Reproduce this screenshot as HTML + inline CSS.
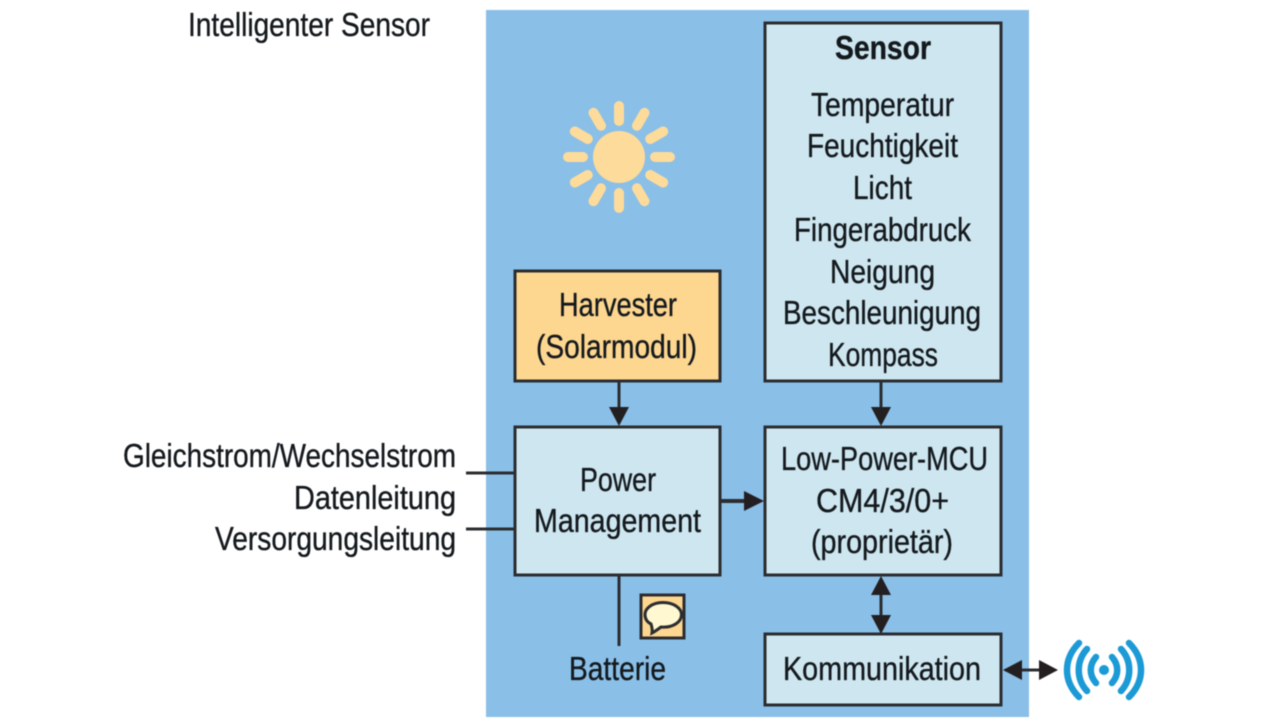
<!DOCTYPE html>
<html>
<head>
<meta charset="utf-8">
<style>
html,body{margin:0;padding:0;background:#fff;width:1280px;height:719px;overflow:hidden}
svg{display:block;filter:blur(0.45px)}
text{font-family:"Liberation Sans",sans-serif;font-size:33px;fill:#14191d;stroke:#14191d;stroke-width:0.35px}
</style>
</head>
<body>
<svg width="1280" height="719" viewBox="0 0 1280 719" xmlns="http://www.w3.org/2000/svg">
<rect width="1280" height="719" fill="#fff"/>
<rect x="486" y="10" width="543" height="707" fill="#8abfe8"/>

<g fill="#cde6f0" stroke="#2b2d30" stroke-width="3">
<rect x="765" y="23" width="236" height="358"/>
<rect x="515" y="271" width="205" height="110" fill="#fdd690"/>
<rect x="515" y="427" width="205" height="148"/>
<rect x="765" y="427" width="236" height="148"/>
<rect x="765" y="634" width="236" height="71"/>
</g>

<!-- sun -->
<circle cx="619" cy="157" r="26" fill="#fddb9b"/>
<g stroke="#fddb9b" stroke-width="10" stroke-linecap="round">
<line x1="619" y1="106" x2="619" y2="121"/>
<line x1="619" y1="193" x2="619" y2="208"/>
<line x1="568" y1="157" x2="583" y2="157"/>
<line x1="655" y1="157" x2="670" y2="157"/>
<line x1="593.500" y1="112.800" x2="601" y2="125.800"/>
<line x1="637" y1="188.200" x2="644.500" y2="201.200"/>
<line x1="644.500" y1="112.800" x2="637" y2="125.800"/>
<line x1="601" y1="188.200" x2="593.500" y2="201.200"/>
<line x1="574.800" y1="131.500" x2="587.800" y2="139"/>
<line x1="650.200" y1="175" x2="663.200" y2="182.500"/>
<line x1="663.200" y1="131.500" x2="650.200" y2="139"/>
<line x1="587.800" y1="175" x2="574.800" y2="182.500"/>
</g>

<!-- connectors -->
<g stroke="#2b2d30" fill="none">
<line x1="619" y1="381" x2="619" y2="412" stroke-width="3"/>
<line x1="881" y1="381" x2="881" y2="412" stroke-width="3"/>
<line x1="721" y1="501" x2="750" y2="501" stroke-width="4"/>
<line x1="881" y1="590" x2="881" y2="620" stroke-width="3"/>
<line x1="1005" y1="670" x2="1045" y2="670" stroke-width="3"/>
<line x1="466" y1="473" x2="515" y2="473" stroke-width="3"/>
<line x1="466" y1="529" x2="515" y2="529" stroke-width="3"/>
<line x1="619" y1="575" x2="619" y2="646" stroke-width="3"/>
</g>
<g fill="#231f20">
<polygon points="609,407 629,407 619,426"/>
<polygon points="871,407 891,407 881,426"/>
<polygon points="744,491 744,511 764,501"/>
<polygon points="871,595 891,595 881,576"/>
<polygon points="871,615 891,615 881,634"/>
<polygon points="1022,660 1022,680 1003,670"/>
<polygon points="1039,660 1039,680 1058,670"/>
</g>

<!-- battery icon -->
<rect x="641" y="595" width="43" height="43" fill="#fdd690" stroke="#2b2d30" stroke-width="3"/>
<path d="M663 602.500 C652 602.500 645 608.500 645 614.500 C645 619 647 622 651 624 C652 627 652.500 630 652 633 C655 631.500 659 628.500 661 627 C673 628 681.500 622 681.500 614.500 C681.500 608.500 674 602.500 663 602.500 Z" fill="#fff8d0" stroke="#2b2d30" stroke-width="3"/>

<!-- wireless icon -->
<circle cx="1104" cy="670" r="5" fill="#1b9ad6"/>
<g fill="none" stroke="#1b9ad6" stroke-width="6.500" stroke-linecap="round">
<path d="M1096 657 C1089 665 1089 675 1096 683"/>
<path d="M1112 657 C1119 665 1119 675 1112 683"/>
<path d="M1087 649 C1076 661 1076 679 1087 691"/>
<path d="M1121 649 C1132 661 1132 679 1121 691"/>
<path d="M1079 643 C1063 659 1063 681 1079 697"/>
<path d="M1129 643 C1145 659 1145 681 1129 697"/>
</g>

<!-- labels -->
<g>
<text x="188" y="36" textLength="242" lengthAdjust="spacingAndGlyphs">Intelligenter Sensor</text>
<text x="835" y="59" textLength="96" lengthAdjust="spacingAndGlyphs" font-weight="bold">Sensor</text>
<text x="811" y="116" textLength="143" lengthAdjust="spacingAndGlyphs">Temperatur</text>
<text x="807" y="157" textLength="151" lengthAdjust="spacingAndGlyphs">Feuchtigkeit</text>
<text x="853" y="199" textLength="59" lengthAdjust="spacingAndGlyphs">Licht</text>
<text x="794" y="241" textLength="177" lengthAdjust="spacingAndGlyphs">Fingerabdruck</text>
<text x="830" y="283" textLength="105" lengthAdjust="spacingAndGlyphs">Neigung</text>
<text x="783" y="324" textLength="198" lengthAdjust="spacingAndGlyphs">Beschleunigung</text>
<text x="828" y="366" textLength="110" lengthAdjust="spacingAndGlyphs">Kompass</text>
<text x="559" y="316" textLength="118" lengthAdjust="spacingAndGlyphs">Harvester</text>
<text x="536" y="358" textLength="161" lengthAdjust="spacingAndGlyphs">(Solarmodul)</text>
<text x="580" y="491" textLength="76" lengthAdjust="spacingAndGlyphs">Power</text>
<text x="534" y="532" textLength="167" lengthAdjust="spacingAndGlyphs">Management</text>
<text x="781" y="470" textLength="207" lengthAdjust="spacingAndGlyphs">Low-Power-MCU</text>
<text x="816" y="512" textLength="133" lengthAdjust="spacingAndGlyphs">CM4/3/0+</text>
<text x="811" y="553" textLength="142" lengthAdjust="spacingAndGlyphs">(proprietär)</text>
<text x="783" y="680" textLength="198" lengthAdjust="spacingAndGlyphs">Kommunikation</text>
<text x="569" y="680" textLength="97" lengthAdjust="spacingAndGlyphs">Batterie</text>
<text x="123" y="467" textLength="333" lengthAdjust="spacingAndGlyphs">Gleichstrom/Wechselstrom</text>
<text x="294" y="509" textLength="162" lengthAdjust="spacingAndGlyphs">Datenleitung</text>
<text x="215" y="550" textLength="241" lengthAdjust="spacingAndGlyphs">Versorgungsleitung</text>
</g>
</svg>
</body>
</html>
